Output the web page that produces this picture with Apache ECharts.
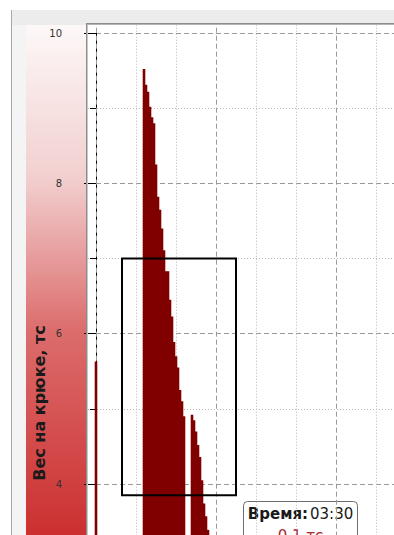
<!DOCTYPE html>
<html>
<head>
<meta charset="utf-8">
<script src="https://cdn.jsdelivr.net/npm/echarts@6/dist/echarts.min.js"></script>
<style>
html,body{margin:0;padding:0;background:#fff;}
#chart{width:394px;height:535px;}
</style>
</head>
<body>
<div id="chart"></div>
<script>
// ---- data ----
const sampleIndex = [0, 24, 25, 26, 27, 28, 29, 30, 31, 32, 33, 34, 35, 36, 37, 38, 39, 40, 41, 42, 43, 44,
                     48, 49, 50, 51, 52, 53, 54, 55, 56];
const hookWeight = [5.63, 9.52, 9.31, 9.22, 9.02, 8.88, 8.80, 8.25, 7.82, 7.65, 7.40, 7.11, 6.83, 6.83, 6.45, 6.23, 5.89, 5.70, 5.55, 5.25, 5.10, 4.90,
                    4.92, 4.85, 4.70, 4.52, 4.36, 4.05, 3.74, 3.57, 3.39];
const yLabelValues = [4, 6, 8, 10];
const xMajorLines = [0, 60, 120];
const xMinorLines = [20, 40, 80, 100, 140];
const selX = [13, 70];
const selY = [3.85, 7.0];
const yAxisTitle = 'Вес на крюке, тс';
const tipLabel = 'Время:';
const tipTime = '03:30';
const tipValue = '0.1 тс';

const chart = echarts.init(document.getElementById('chart'), null, {renderer: 'svg'});

const barData = sampleIndex.map((x, i) => [x, hookWeight[i]]);

const vLines = [];
xMajorLines.forEach(v => vLines.push({xAxis: v, lineStyle: {color: '#9a9a9a', type: [5, 3], width: 1}}));
xMinorLines.forEach(v => vLines.push({xAxis: v, lineStyle: {color: '#b8b8b8', type: [1, 2], width: 1}}));

const option = {
  backgroundColor: '#ffffff',
  animation: false,
  grid: [
    {left: 88, top: 33, width: 316, height: 751.7, containLabel: false, outerBoundsMode: 'none'},
    {left: 88, top: 25, width: 316, height: 759.7, containLabel: false, outerBoundsMode: 'none'}
  ],
  xAxis: [
    {gridIndex: 0, type: 'value', min: -4, max: 154, show: false},
    {gridIndex: 1, type: 'value', min: -4, max: 154, show: false}
  ],
  yAxis: [
    {
      gridIndex: 0, type: 'value', min: 0, max: 10, interval: 2, offset: 6,
      axisLine: {show: true, lineStyle: {color: '#000', width: 1}},
      axisTick: {show: true, length: 12, lineStyle: {color: '#000', width: 1}},
      minorTick: {show: true, splitNumber: 2, length: 6, lineStyle: {color: '#000', width: 1}},
      axisLabel: {
        margin: 20, fontSize: 10, color: '#333', fontFamily: 'DejaVu Sans',
        formatter: v => yLabelValues.indexOf(v) >= 0 ? String(v) : ''
      },
      splitLine: {show: true, lineStyle: {color: '#9a9a9a', type: [5, 3], width: 1}},
      minorSplitLine: {show: true, lineStyle: {color: '#b8b8b8', type: [1, 2], width: 1}}
    },
    {gridIndex: 1, type: 'value', min: 0, max: 10.1064, show: false}
  ],
  series: [
    {
      type: 'line', xAxisIndex: 1, yAxisIndex: 1, data: [], z: 1, silent: true,
      markLine: {silent: true, z: 1, symbol: ['none', 'none'], label: {show: false}, animation: false, data: vLines}
    },
    {
      type: 'bar', xAxisIndex: 0, yAxisIndex: 0, data: barData, barWidth: 2.6, z: 3,
      itemStyle: {color: '#800000', borderWidth: 0}, silent: true
    },
    {
      type: 'line', xAxisIndex: 0, yAxisIndex: 0, data: [], z: 6, silent: true,
      markArea: {
        silent: true, z: 6,
        itemStyle: {color: 'rgba(0,0,0,0)', borderColor: '#000', borderWidth: 2},
        label: {show: false},
        data: [[{coord: [selX[0], selY[1]]}, {coord: [selX[1], selY[0]]}]]
      }
    }
  ],
  graphic: [
    {type: 'rect', z: -10, shape: {x: 12, y: 10, width: 382, height: 15}, style: {fill: '#ececec'}, silent: true},
    {type: 'rect', z: -10, shape: {x: 12, y: 25, width: 14, height: 510}, style: {fill: '#f4f4f4'}, silent: true},
    {type: 'line', z: -9, shape: {x1: 11.5, y1: 10, x2: 11.5, y2: 535}, style: {stroke: '#a8a8a8', lineWidth: 1}, silent: true},
    {type: 'rect', z: -10, shape: {x: 26, y: 25, width: 60, height: 510}, silent: true,
      style: {fill: new echarts.graphic.LinearGradient(0, 0, 0, 1, [
        {offset: 0, color: '#fdf8f8'},
        {offset: 0.3, color: '#f2cfcf'},
        {offset: 0.6, color: '#dc6c6c'},
        {offset: 1, color: '#cc3030'}
      ])}},
    {type: 'line', z: 20, shape: {x1: 86.5, y1: 23.5, x2: 86.5, y2: 535}, style: {stroke: '#8c8c8c', lineWidth: 1}, silent: true},
    {type: 'line', z: 20, shape: {x1: 87.5, y1: 24.5, x2: 87.5, y2: 535}, style: {stroke: '#c8c8c8', lineWidth: 1}, silent: true},
    {type: 'line', z: 20, shape: {x1: 86, y1: 23.5, x2: 394, y2: 23.5}, style: {stroke: '#8c8c8c', lineWidth: 1}, silent: true},
    {type: 'line', z: 20, shape: {x1: 87, y1: 24.5, x2: 394, y2: 24.5}, style: {stroke: '#b4b4b4', lineWidth: 1}, silent: true},
    {type: 'text', z: 20, x: 39, y: 403, rotation: Math.PI / 2, silent: true,
      style: {text: yAxisTitle, fontFamily: 'DejaVu Sans', fontWeight: 'bold', fontSize: 16, fill: '#1a1a1a',
        align: 'center', verticalAlign: 'middle'}},
    {type: 'group', z: 100, silent: true, children: [
      {type: 'rect', shape: {x: 243.5, y: 501.5, width: 114, height: 50, r: 4},
        style: {fill: '#ffffff', stroke: '#6e6e6e', lineWidth: 1}},
      {type: 'text', x: 300.5, y: 514.3,
        style: {text: '{b|' + tipLabel + '}{n|' + tipTime + '}', align: 'center', verticalAlign: 'middle',
          rich: {
            b: {fontFamily: 'DejaVu Sans', fontWeight: 'bold', fontSize: 15, fill: '#1a1a1a'},
            n: {fontFamily: 'DejaVu Sans', fontSize: 15, fill: '#1a1a1a', padding: [0, 0, 0, 2]}
          }}},
      {type: 'text', x: 300.5, y: 536,
        style: {text: tipValue, fontFamily: 'DejaVu Sans', fontSize: 15, fill: '#a52a2a',
          align: 'center', verticalAlign: 'middle'}}
    ]}
  ]
};
chart.setOption(option);
</script>
</body>
</html>
